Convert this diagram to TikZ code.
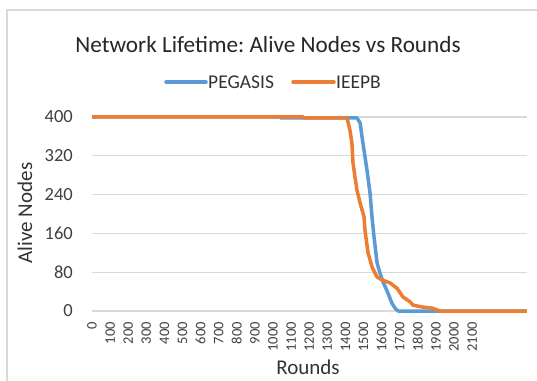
\documentclass[tikz,border=0pt]{standalone}
\usepackage{fontspec}
\setmainfont{Carlito}
\frenchspacing
\definecolor{pegblue}{HTML}{5B9BD5}
\definecolor{ieeorange}{HTML}{ED7D31}
\definecolor{gridgray}{HTML}{D9D9D9}
\tikzset{
  series/.style={line width=3.5pt, line join=round},
  legendline/.style={line width=3.5pt, line cap=round},
  gridline/.style={gridgray, line width=1.3pt},
  yticklabel/.style={inner sep=0pt, anchor=east, text=black!75, font=\fontsize{18.5}{20}\selectfont},
  xticklabel/.style={inner sep=0pt, rotate=90, anchor=east, text=black!75, font=\fontsize{14.5}{16}\selectfont},
  legendlabel/.style={inner sep=0pt, anchor=west, text=black!80, font=\fontsize{19.5}{22}\selectfont},
  axistitle/.style={inner sep=0pt, text=black!80, font=\fontsize{21}{24}\selectfont},
}
\begin{document}
\begin{tikzpicture}[x=1pt, y=1pt]
  \useasboundingbox (0,0) rectangle (537,380);
  \fill[white] (0,0) rectangle (537,380);
  \clip (0,0) rectangle (537,380);

  % Chart border
  \draw[gridgray, line width=2pt] (7,-10) rectangle (560,370);

  % Title
  \node[inner sep=0pt, text=black!85, font=\fontsize{23.2}{27}\selectfont] (title) at (268,335)
    {Network Lifetime: Alive Nodes vs Rounds};

  % Legend
  \coordinate (pegA) at (166,298);
  \coordinate (pegB) at (206,298);
  \coordinate (ieeA) at (293,298);
  \coordinate (ieeB) at (334,298);
  \draw[legendline, pegblue] (pegA) -- (pegB);
  \node[legendlabel] (pegtext) at ([xshift=2pt]pegB) {PEGASIS};
  \draw[legendline, ieeorange] (ieeA) -- (ieeB);
  \node[legendlabel] (ieetext) at ([xshift=2pt]ieeB) {IEEPB};

  % Plot area (rounds, alive nodes)
  \begin{scope}[shift={(92,69)}, x=0.181pt, y=0.485pt]
    % Gridlines and y labels
    \foreach \n in {0,80,...,400} {
      \draw[gridline] (0,\n) -- (2403,\n);
      \node[yticklabel] (ytick\n) at (-105,\n) {\n};
    }

    % x labels
    \foreach \r in {0,100,...,2100}
      \node[xticklabel] (xtick\r) at (\r,-22.7) {\r};

    % PEGASIS
    \draw[series, pegblue] plot coordinates {
      (0,400) (1039,400) (1045,398) (1464,398) (1481,388) (1497,346)
      (1519,291) (1536,243) (1547,194) (1558,153) (1575,99) (1591,78)
      (1608,60) (1635,37) (1657,16) (1674,6) (1691,0) (2403,0)};

    % IEEPB
    \draw[series, ieeorange] plot coordinates {
      (0,400) (1166,400) (1172,398) (1409,398) (1425,373) (1436,346)
      (1442,305) (1453,276) (1464,249) (1481,223) (1503,194) (1508,167)
      (1525,120) (1547,91) (1575,70) (1602,64) (1646,58) (1685,47)
      (1718,29) (1757,19) (1773,12) (1829,8) (1878,6) (1923,0) (2403,0)};
  \end{scope}

  % Axis titles
  \node[axistitle, rotate=90] (ytitle) at (25,167) {Alive Nodes};
  \node[axistitle] (xtitle) at (308,13) {Rounds};
\end{tikzpicture}
\end{document}
